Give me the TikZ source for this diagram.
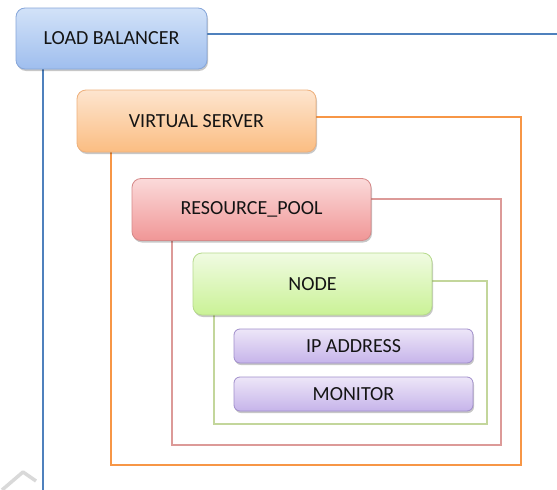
\documentclass[tikz,border=0pt]{standalone}
\usepackage{fontspec}
\setmainfont{Carlito}
\usetikzlibrary{shadows}
\definecolor{lbTop}{HTML}{D2E2F8}
\definecolor{lbBot}{HTML}{9FBEEE}
\definecolor{lbBrd}{HTML}{86A6DA}
\definecolor{vsTop}{HTML}{FDE5CF}
\definecolor{vsBot}{HTML}{FBBD82}
\definecolor{vsBrd}{HTML}{EEB07C}
\definecolor{rpTop}{HTML}{FBDADA}
\definecolor{rpBot}{HTML}{F09696}
\definecolor{rpBrd}{HTML}{D68A8A}
\definecolor{ndTop}{HTML}{F0FBE2}
\definecolor{ndBot}{HTML}{CAF296}
\definecolor{ndBrd}{HTML}{B6DA8C}
\definecolor{ipTop}{HTML}{EDE6F8}
\definecolor{ipBot}{HTML}{C6B4EA}
\definecolor{ipBrd}{HTML}{A08ECB}
\definecolor{blueLine}{HTML}{4F81BD}
\definecolor{orangeLine}{HTML}{F79646}
\definecolor{redLine}{HTML}{DC9A98}
\definecolor{greenLine}{HTML}{C3D69B}
\begin{document}
\begin{tikzpicture}[x=1pt,y=-1pt,
  box/.style={rectangle, rounded corners=9pt, inner sep=0pt, line width=0.8pt,
    font=\fontsize{20}{24}\selectfont, text=black!92,
    drop shadow={shadow xshift=1pt, shadow yshift=-2pt, opacity=0.22, fill=black}},
  bigbox/.style={box, minimum width=239pt, minimum height=62pt},
  smallbox/.style={box, rounded corners=6pt, minimum width=239pt, minimum height=34pt},
  lbbox/.style={box, minimum width=191pt, minimum height=61pt, top color=lbTop, bottom color=lbBot, draw=lbBrd},
  vsbox/.style={bigbox, top color=vsTop, bottom color=vsBot, draw=vsBrd},
  rpbox/.style={bigbox, top color=rpTop, bottom color=rpBot, draw=rpBrd},
  ndbox/.style={bigbox, top color=ndTop, bottom color=ndBot, draw=ndBrd},
  ipbox/.style={smallbox, top color=ipTop, bottom color=ipBot, draw=ipBrd},
  bline/.style={draw=blueLine, line width=2.2pt},
  oline/.style={draw=orangeLine, line width=2.4pt},
  rline/.style={draw=redLine, line width=1.5pt},
  gline/.style={draw=greenLine, line width=1.5pt}]
\useasboundingbox (0,0) rectangle (557,490);
\fill[white] (0,0) rectangle (557,490);

% faint mark at the bottom left
\draw[gray!30, line width=3.5pt, line join=round] (2,490) -- (23,472) -- (36,481);

% named corner coordinates
\coordinate (bR) at (557,34);
\coordinate (bB) at (43,490);
\coordinate (oC) at (521,465);
\coordinate (oL) at (111,465);
\coordinate (rC) at (501,445);
\coordinate (rL) at (172,445);
\coordinate (gC) at (487,424);
\coordinate (gL) at (214,424);

% frames
\draw[oline] (196.5,117) -| (oC) -- (oL) -- (oL |- 0,152);
\draw[rline] (251.5,199) -| (rC) -- (rL) -- (rL |- 0,241);
\draw[gline] (312.5,281) -| (gC) -- (gL) -- (gL |- 0,315);
\draw[bline] (111.5,34) -- (bR);
\draw[bline] (bB |- 0,69) -- (bB);

% boxes
\node[lbbox] (lb) at (111.5,38.5) {LOAD BALANCER};
\node[vsbox] (vs) at (196.5,121) {VIRTUAL SERVER};
\node[rpbox] (rp) at (251.5,209.5) {RESOURCE\_POOL};
\node[ndbox] (nd) at (312.5,284) {NODE};
\node[ipbox] (ip) at (353.5,346) {IP ADDRESS};
\node[ipbox] (mon) at (353.5,394) {MONITOR};
\end{tikzpicture}
\end{document}
